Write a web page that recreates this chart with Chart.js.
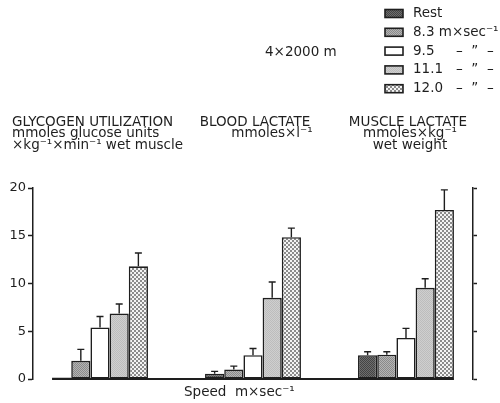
<!DOCTYPE html>
<html>
<head>
<meta charset="utf-8">
<script src="https://cdn.jsdelivr.net/npm/chart.js@4"></script>
<style>
  body { margin: 0; background: #fff; }
  #wrap { width: 500px; height: 403px; }
</style>
</head>
<body>
<div id="wrap"><canvas id="myChart" width="500" height="403"></canvas></div>
<script>
// groups (x) and the five running speeds (datasets)
const groups      = [0, 1, 2];
const groupTitles = [
    ['GLYCOGEN UTILIZATION', 'mmoles glucose units', '\u00d7kg\u207b\u00b9\u00d7min\u207b\u00b9 wet muscle'],
    ['BLOOD LACTATE', 'mmoles\u00d7l\u207b\u00b9'],
    ['MUSCLE LACTATE', 'mmoles\u00d7kg\u207b\u00b9', 'wet weight']
];
const speedLabels = ['Rest', '8.3', '9.5', '11.1', '12.0'];
const yTicks      = [0, 5, 10, 15, 20];

// means
const restVals = [0.15, 0.55, 2.5];
const v83Vals  = [1.9, 1.0, 2.55];
const v95Vals  = [5.4, 2.5, 4.3];
const v111Vals = [6.85, 8.5, 9.55];
const v120Vals = [11.8, 14.85, 17.7];

// standard deviations (upper error bar)
const restSD = [0, 0.25, 0.35];
const v83SD  = [1.2, 0.35, 0.3];
const v95SD  = [1.15, 0.7, 1.0];
const v111SD = [1.0, 1.65, 0.95];
const v120SD = [1.4, 0.95, 2.1];

const allVals = [restVals, v83Vals, v95Vals, v111Vals, v120Vals];
const allSD   = [restSD, v83SD, v95SD, v111SD, v120SD];

const FONT = "'DejaVu Sans', sans-serif";
const INK  = '#1e1e1e';

function makePattern(base, dot, size)
{
    const c   = document.createElement('canvas');
    c.width   = size * 2;
    c.height  = size * 2;
    const g   = c.getContext('2d');
    g.fillStyle = base;
    g.fillRect(0, 0, c.width, c.height);
    if (dot) {
        g.fillStyle = dot;
        g.fillRect(0, 0, size, size);
        g.fillRect(size, size, size, size);
    }
    return document.getElementById('myChart').getContext('2d').createPattern(c, 'repeat');
}

const fills = [
    makePattern('#6e6e6e', '#444', 1),
    makePattern('#b4b4b4', '#8a8a8a', 1),
    '#ffffff',
    makePattern('#cfcfcf', '#bdbdbd', 1),
    makePattern('#f4f4f4', '#8c8c8c', 2)
];

const datasets = allVals.map(function (vals, k) {
    return {
        label: speedLabels[k],
        data: vals.map(function (v, i) { return { x: groups[i], y: v }; }),
        backgroundColor: fills[k],
        borderColor: INK,
        borderWidth: 1.6,
        borderSkipped: false,
        categoryPercentage: 0.627,
        barPercentage: 1.0
    };
});

// sub-title shift per group (units lines sit right of centre in the original)
const subShift = [0, 19, 4];

const extras = {
    id: 'extras',
    afterDatasetsDraw(chart)
    {
        const ctx = chart.ctx;
        const xs  = chart.scales.x;
        const ys  = chart.scales.y;
        ctx.save();
        ctx.strokeStyle = INK;
        ctx.fillStyle   = INK;

        // baseline under the bars
        const first = chart.getDatasetMeta(0).data[0];
        const last  = chart.getDatasetMeta(4).data[2];
        ctx.lineWidth = 2;
        ctx.beginPath();
        ctx.moveTo(first.x - first.width / 2, ys.getPixelForValue(0));
        ctx.lineTo(last.x + last.width / 2, ys.getPixelForValue(0));
        ctx.stroke();

        // error bars
        ctx.lineWidth = 1.4;
        allVals.forEach(function (vals, k) {
            const meta = chart.getDatasetMeta(k);
            vals.forEach(function (v, i) {
                const sd = allSD[k][i];
                if (!sd) return;
                const bx  = meta.data[i].x;
                const y0  = ys.getPixelForValue(v);
                const y1  = ys.getPixelForValue(v + sd);
                ctx.beginPath();
                ctx.moveTo(bx, y0);
                ctx.lineTo(bx, y1);
                ctx.moveTo(bx - 3.5, y1);
                ctx.lineTo(bx + 3.5, y1);
                ctx.stroke();
            });
        });

        // group titles
        ctx.font = '13.5px ' + FONT;
        ctx.textBaseline = 'middle';
        groupTitles.forEach(function (lines, i) {
            const cx = xs.getPixelForValue(groups[i]);
            lines.forEach(function (t, j) {
                const y = 122 + j * 11.5;
                if (i === 0) {
                    ctx.textAlign = 'left';
                    ctx.fillText(t, 12, y);
                } else {
                    ctx.textAlign = 'center';
                    ctx.fillText(t, cx + (j === 0 ? 2 : subShift[i]), y);
                }
            });
        });

        // top label and x axis title
        ctx.textAlign = 'left';
        ctx.fillText('4\u00d72000 m', 265, 52);
        ctx.fillText('Speed  m\u00d7sec\u207b\u00b9', 184, 392);

        // legend
        chart.data.datasets.forEach(function (ds, k) {
            const y = 13.5 + k * 18.8;
            ctx.fillStyle = ds.backgroundColor;
            ctx.fillRect(385, y - 4, 18, 8);
            ctx.lineWidth = 1.6;
            ctx.strokeRect(385, y - 4, 18, 8);
            ctx.fillStyle = INK;
            ctx.textAlign = 'left';
            if (k === 0) {
                ctx.fillText(ds.label, 413, y);
            } else if (k === 1) {
                ctx.fillText(ds.label + ' m\u00d7sec\u207b\u00b9', 413, y);
            } else {
                ctx.fillText(ds.label, 413, y);
                ctx.fillText('\u2013  \u201d  \u2013', 456, y);
            }
        });
        ctx.restore();
    }
};

const ctx = document.getElementById('myChart').getContext('2d');
const myChart = new Chart(ctx, {
    type: 'bar',
    data: { datasets: datasets },
    plugins: [extras],
    options: {
        responsive: false,
        animation: false,
        layout: { padding: { top: 188, bottom: 24, left: 0, right: 0 } },
        plugins: {
            legend: { display: false },
            tooltip: { enabled: false }
        },
        scales: {
            x: {
                type: 'linear',
                display: false,
                offset: false,
                bounds: 'data',
                min: -0.438,
                max: 2.438,
                afterBuildTicks: function (scale) { scale.ticks = groups.map(function (v) { return { value: v }; }); }
            },
            y: {
                position: 'left',
                min: 0,
                max: 20,
                afterFit: function (scale) { scale.width = 33; },
                afterBuildTicks: function (scale) { scale.ticks = yTicks.map(function (v) { return { value: v }; }); },
                border: { color: INK, width: 1.5 },
                grid: { drawOnChartArea: false, drawTicks: true, tickLength: 5, tickColor: INK, tickWidth: 1.5 },
                ticks: { color: INK, font: { family: FONT, size: 13 }, padding: 2 }
            },
            y2: {
                position: 'right',
                min: 0,
                max: 20,
                afterFit: function (scale) { scale.width = 27; },
                afterBuildTicks: function (scale) { scale.ticks = yTicks.map(function (v) { return { value: v }; }); },
                border: { color: INK, width: 1.5 },
                grid: { drawOnChartArea: false, drawTicks: true, tickLength: 4, tickColor: INK, tickWidth: 1.5 },
                ticks: { color: 'rgba(0,0,0,0)', font: { family: FONT, size: 13 } }
            }
        }
    }
});
</script>
</body>
</html>
